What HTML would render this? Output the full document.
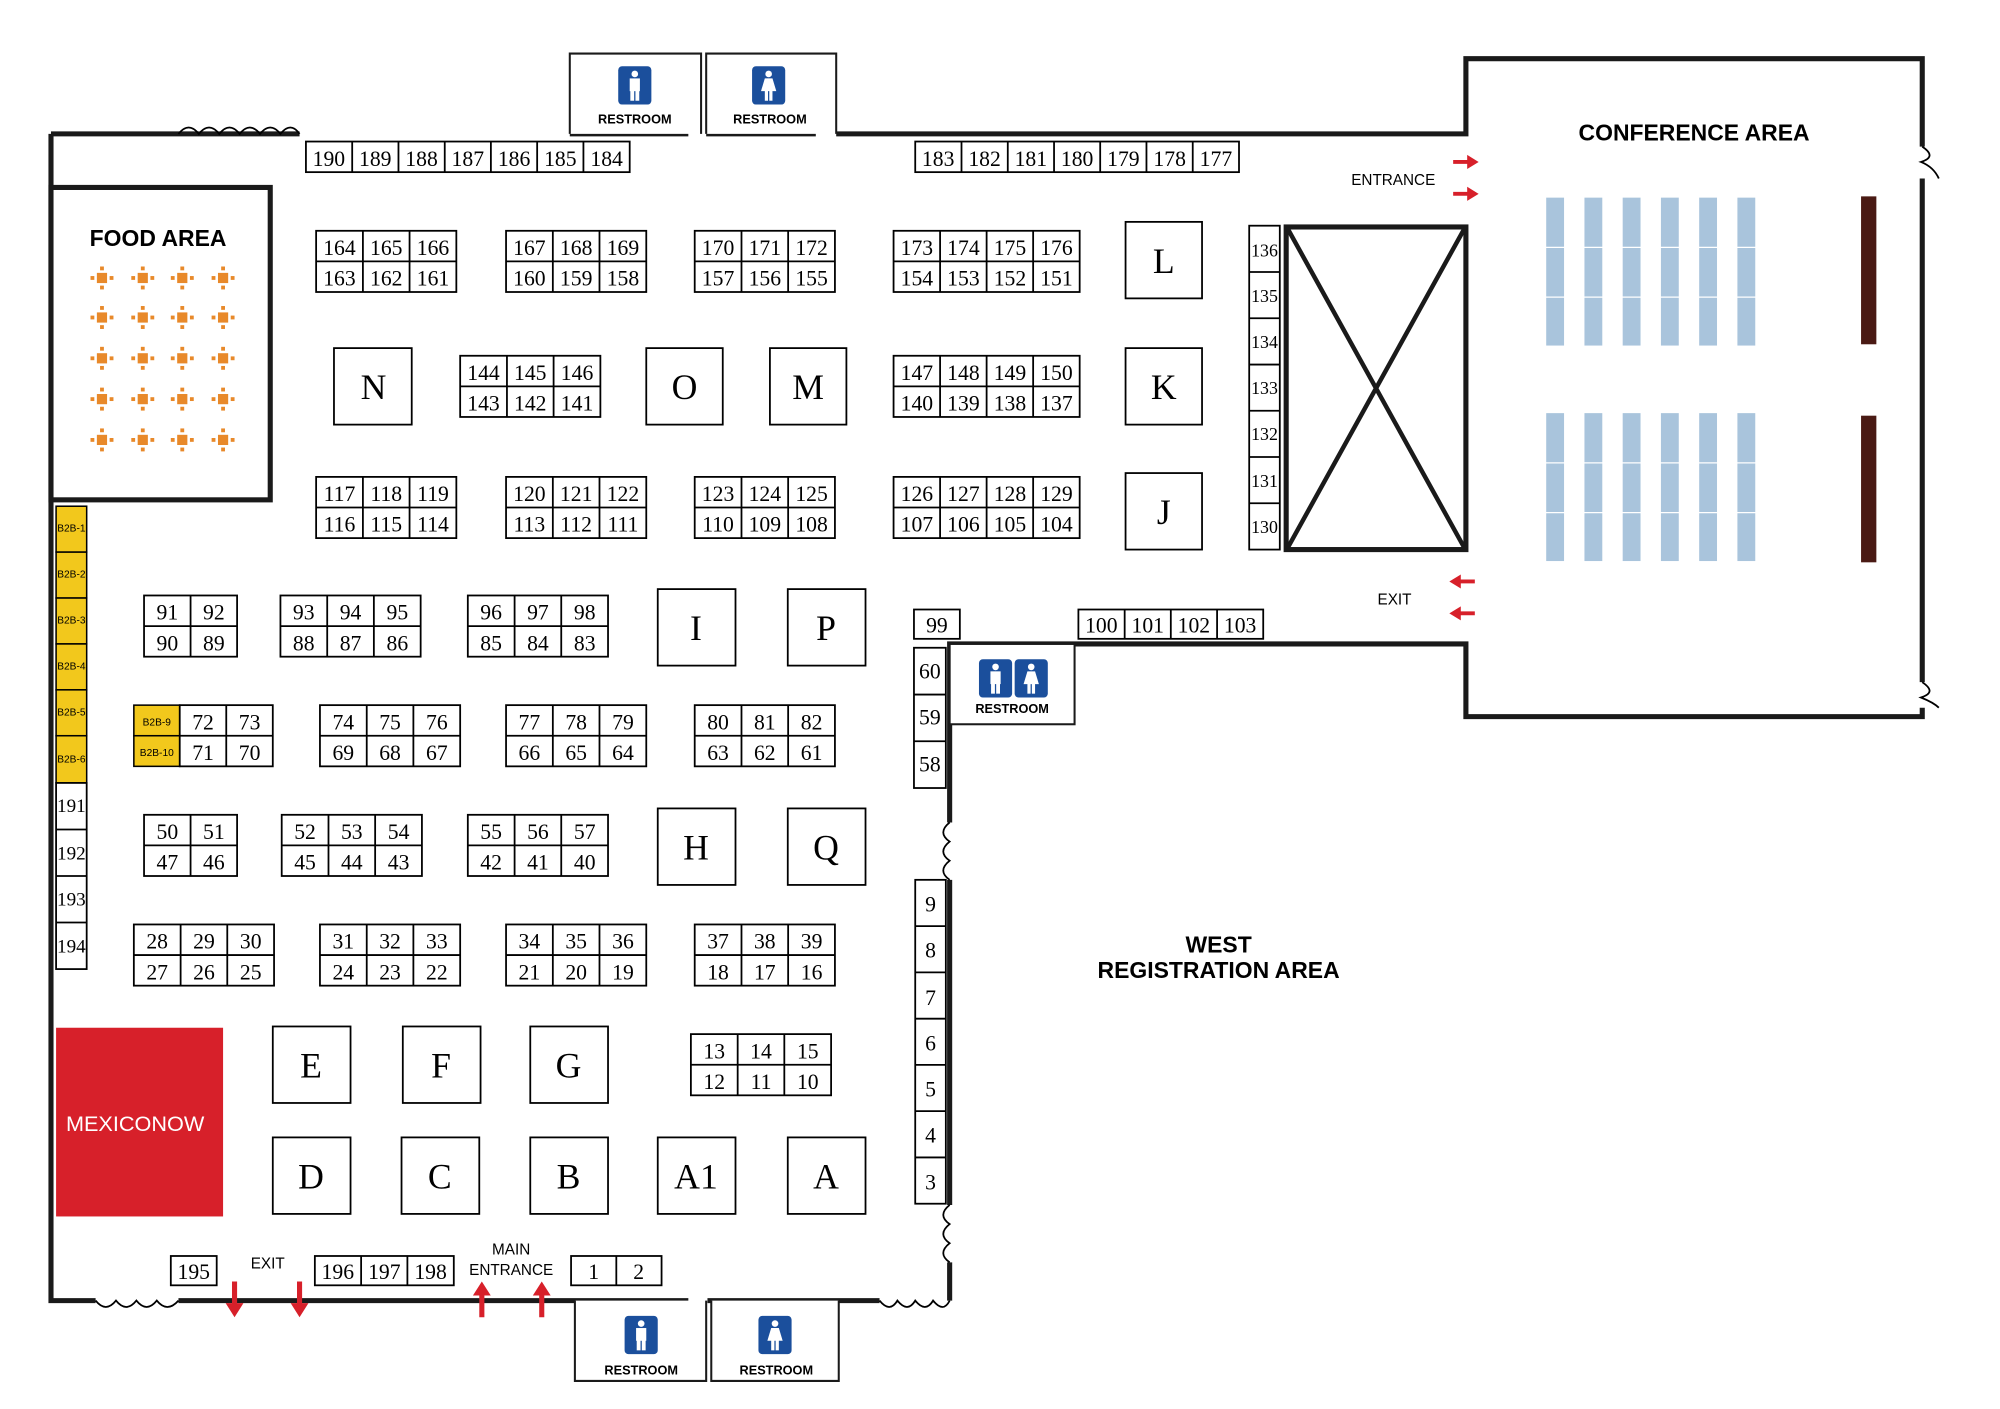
<!DOCTYPE html>
<html><head><meta charset="utf-8"><style>
html,body{margin:0;padding:0;background:#fff}
svg{display:block}
.c{fill:#fff;stroke:#000;stroke-width:1.4}
.l{stroke:#000;stroke-width:1.4;fill:none}
.w{stroke:#1a1a1a;stroke-width:4;fill:none}
.t{stroke:#1a1a1a;stroke-width:1.6;fill:#fff}
text{font-family:"Liberation Serif",serif;font-size:17px;text-anchor:middle}
.L{font-size:28px}
.s{font-family:"Liberation Sans",sans-serif;font-weight:bold}
.y{fill:#f2c81c;stroke:#000;stroke-width:1.2}
.b{fill:#a9c4dc}
.d{fill:#4a1a14}
.r{fill:#d7202a}
</style></head><body>
<svg width="2000" height="1409" viewBox="0 0 1569 1105" preserveAspectRatio="none" xmlns="http://www.w3.org/2000/svg">
<defs>
<g id="tb"><rect x="-4" y="-4" width="8" height="8" fill="#e8892a"/><rect x="-9" y="-1.5" width="3" height="3" fill="#e8892a"/><rect x="6" y="-1.5" width="3" height="3" fill="#e8892a"/><rect x="-1.5" y="-9" width="3" height="3" fill="#e8892a"/><rect x="-1.5" y="6" width="3" height="3" fill="#e8892a"/></g>
<g id="man"><rect x="-13" y="-15" width="26" height="30" rx="3" fill="#1b4f9c"/><circle cx="0" cy="-9" r="2.6" fill="#fff"/><rect x="-4" y="-5.5" width="8" height="10" fill="#fff"/><rect x="-3.5" y="4" width="3" height="8" fill="#fff"/><rect x="0.5" y="4" width="3" height="8" fill="#fff"/></g>
<g id="wom"><rect x="-13" y="-15" width="26" height="30" rx="3" fill="#1b4f9c"/><circle cx="0" cy="-9" r="2.6" fill="#fff"/><path d="M-3 -5.5h6l3 10h-12z" fill="#fff"/><rect x="-3" y="4" width="2.5" height="8" fill="#fff"/><rect x="0.5" y="4" width="2.5" height="8" fill="#fff"/></g>
</defs>

<path class="w" d="M40 105V1020H75M140 1020H540M555 1020H690M745 1020V990M745 945V690M745 645V505H843M805 505H1150V562H1508V555M1508 535V140M1508 115V46H1150V105H656M640 105H554M540 105H447M235 105H40"/>
<path class="l" d="M140 105q8-10 16 0q8-10 16 0q8-10 16 0q8-10 16 0q8-10 16 0q8-10 15 0M75 1020q8 10 16 0q8 10 16 0q8 10 16 0q8 10 17 0M690 1020q8 10 14 0q8 10 14 0q8 10 14 0q8 10 13 0M745 645q-10 8 0 15q-10 8 0 15q-10 8 0 15M745 945q-10 8 0 15q-10 8 0 15q-10 8 0 15M1508 115q12 8 -1 12q10 4 14 13M1508 535q12 8 -1 12q10 4 14 8"/>
<path class="t" d="M447 105V42H550V105M554 105V42H656V105"/>
<use href="#man" x="498" y="67"/><text class="s" x="498" y="97" style="font-size:10px">RESTROOM</text>
<use href="#wom" x="603" y="67"/><text class="s" x="604" y="97" style="font-size:10px">RESTROOM</text>
<path class="t" d="M451 1020V1083H554V1020M558 1020V1083H658V1020"/>
<use href="#man" x="503" y="1047"/><text class="s" x="503" y="1078" style="font-size:10px">RESTROOM</text>
<use href="#wom" x="608" y="1047"/><text class="s" x="609" y="1078" style="font-size:10px">RESTROOM</text>
<rect class="t" x="745" y="505" width="98" height="63"/>
<use href="#man" x="781" y="532"/><use href="#wom" x="809" y="532"/>
<text class="s" x="794" y="559" style="font-size:10px">RESTROOM</text>

<rect x="40" y="147" width="172" height="245" fill="#fff" stroke="#1a1a1a" stroke-width="4"/>
<text class="s" x="124" y="193" style="font-size:18px">FOOD AREA</text>
<g>
<use href="#tb" x="80" y="218"/><use href="#tb" x="112" y="218"/><use href="#tb" x="143" y="218"/><use href="#tb" x="175" y="218"/>
<use href="#tb" x="80" y="249"/><use href="#tb" x="112" y="249"/><use href="#tb" x="143" y="249"/><use href="#tb" x="175" y="249"/>
<use href="#tb" x="80" y="281"/><use href="#tb" x="112" y="281"/><use href="#tb" x="143" y="281"/><use href="#tb" x="175" y="281"/>
<use href="#tb" x="80" y="313"/><use href="#tb" x="112" y="313"/><use href="#tb" x="143" y="313"/><use href="#tb" x="175" y="313"/>
<use href="#tb" x="80" y="345"/><use href="#tb" x="112" y="345"/><use href="#tb" x="143" y="345"/><use href="#tb" x="175" y="345"/>
</g>

<g transform="translate(240,111)"><rect class="c" width="254" height="24"/><path class="l" d="M36.3 0v24M72.6 0v24M108.9 0v24M145.1 0v24M181.4 0v24M217.7 0v24"/>
<text x="18" y="19">190</text><text x="54.4" y="19">189</text><text x="90.7" y="19">188</text><text x="127" y="19">187</text><text x="163.3" y="19">186</text><text x="199.6" y="19">185</text><text x="235.9" y="19">184</text></g>
<g transform="translate(718,111)"><rect class="c" width="254" height="24"/><path class="l" d="M36.3 0v24M72.6 0v24M108.9 0v24M145.1 0v24M181.4 0v24M217.7 0v24"/>
<text x="18" y="19">183</text><text x="54.4" y="19">182</text><text x="90.7" y="19">181</text><text x="127" y="19">180</text><text x="163.3" y="19">179</text><text x="199.6" y="19">178</text><text x="235.9" y="19">177</text></g>

<g transform="translate(248,181)"><rect class="c" width="110" height="48"/><path class="l" d="M36.7 0v48M73.3 0v48M0 24h110"/><text x="18.3" y="19">164</text><text x="55" y="19">165</text><text x="91.7" y="19">166</text><text x="18.3" y="43">163</text><text x="55" y="43">162</text><text x="91.7" y="43">161</text></g>
<g transform="translate(397,181)"><rect class="c" width="110" height="48"/><path class="l" d="M36.7 0v48M73.3 0v48M0 24h110"/><text x="18.3" y="19">167</text><text x="55" y="19">168</text><text x="91.7" y="19">169</text><text x="18.3" y="43">160</text><text x="55" y="43">159</text><text x="91.7" y="43">158</text></g>
<g transform="translate(545,181)"><rect class="c" width="110" height="48"/><path class="l" d="M36.7 0v48M73.3 0v48M0 24h110"/><text x="18.3" y="19">170</text><text x="55" y="19">171</text><text x="91.7" y="19">172</text><text x="18.3" y="43">157</text><text x="55" y="43">156</text><text x="91.7" y="43">155</text></g>
<g transform="translate(701,181)"><rect class="c" width="146" height="48"/><path class="l" d="M36.5 0v48M73 0v48M109.5 0v48M0 24h146"/><text x="18.3" y="19">173</text><text x="54.8" y="19">174</text><text x="91.3" y="19">175</text><text x="127.8" y="19">176</text><text x="18.3" y="43">154</text><text x="54.8" y="43">153</text><text x="91.3" y="43">152</text><text x="127.8" y="43">151</text></g>

<g transform="translate(361,279)"><rect class="c" width="110" height="48"/><path class="l" d="M36.7 0v48M73.3 0v48M0 24h110"/><text x="18.3" y="19">144</text><text x="55" y="19">145</text><text x="91.7" y="19">146</text><text x="18.3" y="43">143</text><text x="55" y="43">142</text><text x="91.7" y="43">141</text></g>
<g transform="translate(701,279)"><rect class="c" width="146" height="48"/><path class="l" d="M36.5 0v48M73 0v48M109.5 0v48M0 24h146"/><text x="18.3" y="19">147</text><text x="54.8" y="19">148</text><text x="91.3" y="19">149</text><text x="127.8" y="19">150</text><text x="18.3" y="43">140</text><text x="54.8" y="43">139</text><text x="91.3" y="43">138</text><text x="127.8" y="43">137</text></g>

<g transform="translate(248,374)"><rect class="c" width="110" height="48"/><path class="l" d="M36.7 0v48M73.3 0v48M0 24h110"/><text x="18.3" y="19">117</text><text x="55" y="19">118</text><text x="91.7" y="19">119</text><text x="18.3" y="43">116</text><text x="55" y="43">115</text><text x="91.7" y="43">114</text></g>
<g transform="translate(397,374)"><rect class="c" width="110" height="48"/><path class="l" d="M36.7 0v48M73.3 0v48M0 24h110"/><text x="18.3" y="19">120</text><text x="55" y="19">121</text><text x="91.7" y="19">122</text><text x="18.3" y="43">113</text><text x="55" y="43">112</text><text x="91.7" y="43">111</text></g>
<g transform="translate(545,374)"><rect class="c" width="110" height="48"/><path class="l" d="M36.7 0v48M73.3 0v48M0 24h110"/><text x="18.3" y="19">123</text><text x="55" y="19">124</text><text x="91.7" y="19">125</text><text x="18.3" y="43">110</text><text x="55" y="43">109</text><text x="91.7" y="43">108</text></g>
<g transform="translate(701,374)"><rect class="c" width="146" height="48"/><path class="l" d="M36.5 0v48M73 0v48M109.5 0v48M0 24h146"/><text x="18.3" y="19">126</text><text x="54.8" y="19">127</text><text x="91.3" y="19">128</text><text x="127.8" y="19">129</text><text x="18.3" y="43">107</text><text x="54.8" y="43">106</text><text x="91.3" y="43">105</text><text x="127.8" y="43">104</text></g>

<g class="c"><rect x="883" y="174" width="60" height="60"/><rect x="883" y="273" width="60" height="60"/><rect x="883" y="371" width="60" height="60"/>
<rect x="262" y="273" width="61" height="60"/><rect x="507" y="273" width="60" height="60"/><rect x="604" y="273" width="60" height="60"/>
<rect x="516" y="462" width="61" height="60"/><rect x="618" y="462" width="61" height="60"/>
<rect x="516" y="634" width="61" height="60"/><rect x="618" y="634" width="61" height="60"/>
<rect x="214" y="805" width="61" height="60"/><rect x="316" y="805" width="61" height="60"/><rect x="416" y="805" width="61" height="60"/>
<rect x="214" y="892" width="61" height="60"/><rect x="315" y="892" width="61" height="60"/><rect x="416" y="892" width="61" height="60"/><rect x="516" y="892" width="61" height="60"/><rect x="618" y="892" width="61" height="60"/></g>
<g class="L"><text class="L" x="913" y="214">L</text><text class="L" x="913" y="313">K</text><text class="L" x="913" y="411">J</text>
<text class="L" x="293" y="313">N</text><text class="L" x="537" y="313">O</text><text class="L" x="634" y="313">M</text>
<text class="L" x="546" y="502">I</text><text class="L" x="648" y="502">P</text><text class="L" x="546" y="674">H</text><text class="L" x="648" y="674">Q</text>
<text class="L" x="244" y="845">E</text><text class="L" x="346" y="845">F</text><text class="L" x="446" y="845">G</text>
<text class="L" x="244" y="932">D</text><text class="L" x="345" y="932">C</text><text class="L" x="446" y="932">B</text><text class="L" x="546" y="932">A1</text><text class="L" x="648" y="932">A</text></g>

<g transform="translate(980,177)"><rect class="c" width="24" height="254"/><path class="l" d="M0 36.3h24M0 72.6h24M0 108.9h24M0 145.1h24M0 181.4h24M0 217.7h24"/>
<text x="12" y="24" style="font-size:14px">136</text><text x="12" y="60" style="font-size:14px">135</text><text x="12" y="96" style="font-size:14px">134</text><text x="12" y="132" style="font-size:14px">133</text><text x="12" y="168" style="font-size:14px">132</text><text x="12" y="205" style="font-size:14px">131</text><text x="12" y="241" style="font-size:14px">130</text></g>
<rect x="1009" y="178" width="141" height="253" fill="#fff" stroke="#1a1a1a" stroke-width="4"/>
<path d="M1010 179L1149 430M1149 179L1010 430" stroke="#1a1a1a" stroke-width="3.5"/>

<g transform="translate(113,467)"><rect class="c" width="73" height="48"/><path class="l" d="M36.5 0v48M0 24h73"/><text x="18.3" y="19">91</text><text x="54.8" y="19">92</text><text x="18.3" y="43">90</text><text x="54.8" y="43">89</text></g>
<g transform="translate(220,467)"><rect class="c" width="110" height="48"/><path class="l" d="M36.7 0v48M73.3 0v48M0 24h110"/><text x="18.3" y="19">93</text><text x="55" y="19">94</text><text x="91.7" y="19">95</text><text x="18.3" y="43">88</text><text x="55" y="43">87</text><text x="91.7" y="43">86</text></g>
<g transform="translate(367,467)"><rect class="c" width="110" height="48"/><path class="l" d="M36.7 0v48M73.3 0v48M0 24h110"/><text x="18.3" y="19">96</text><text x="55" y="19">97</text><text x="91.7" y="19">98</text><text x="18.3" y="43">85</text><text x="55" y="43">84</text><text x="91.7" y="43">83</text></g>
<g transform="translate(717,478)"><rect class="c" width="36" height="23"/><text x="18" y="18">99</text></g>
<g transform="translate(846,478)"><rect class="c" width="145" height="23"/><path class="l" d="M36.3 0v23M72.5 0v23M108.8 0v23"/><text x="18" y="18">100</text><text x="54.4" y="18">101</text><text x="90.6" y="18">102</text><text x="126.9" y="18">103</text></g>
<g transform="translate(717,508)"><rect class="c" width="25" height="110"/><path class="l" d="M0 36.7h25M0 73.3h25"/><text x="12.5" y="24">60</text><text x="12.5" y="60">59</text><text x="12.5" y="97">58</text></g>

<g transform="translate(105,553)"><rect class="y" width="36" height="24"/><rect class="y" y="24" width="36" height="24"/><text x="18" y="16" style="font-family:'Liberation Sans',sans-serif;font-size:8px">B2B-9</text><text x="18" y="40" style="font-family:'Liberation Sans',sans-serif;font-size:8px">B2B-10</text></g>
<g transform="translate(141,553)"><rect class="c" width="73" height="48"/><path class="l" d="M36.5 0v48M0 24h73"/><text x="18.3" y="19">72</text><text x="54.8" y="19">73</text><text x="18.3" y="43">71</text><text x="54.8" y="43">70</text></g>
<g transform="translate(251,553)"><rect class="c" width="110" height="48"/><path class="l" d="M36.7 0v48M73.3 0v48M0 24h110"/><text x="18.3" y="19">74</text><text x="55" y="19">75</text><text x="91.7" y="19">76</text><text x="18.3" y="43">69</text><text x="55" y="43">68</text><text x="91.7" y="43">67</text></g>
<g transform="translate(397,553)"><rect class="c" width="110" height="48"/><path class="l" d="M36.7 0v48M73.3 0v48M0 24h110"/><text x="18.3" y="19">77</text><text x="55" y="19">78</text><text x="91.7" y="19">79</text><text x="18.3" y="43">66</text><text x="55" y="43">65</text><text x="91.7" y="43">64</text></g>
<g transform="translate(545,553)"><rect class="c" width="110" height="48"/><path class="l" d="M36.7 0v48M73.3 0v48M0 24h110"/><text x="18.3" y="19">80</text><text x="55" y="19">81</text><text x="91.7" y="19">82</text><text x="18.3" y="43">63</text><text x="55" y="43">62</text><text x="91.7" y="43">61</text></g>

<g transform="translate(113,639)"><rect class="c" width="73" height="48"/><path class="l" d="M36.5 0v48M0 24h73"/><text x="18.3" y="19">50</text><text x="54.8" y="19">51</text><text x="18.3" y="43">47</text><text x="54.8" y="43">46</text></g>
<g transform="translate(221,639)"><rect class="c" width="110" height="48"/><path class="l" d="M36.7 0v48M73.3 0v48M0 24h110"/><text x="18.3" y="19">52</text><text x="55" y="19">53</text><text x="91.7" y="19">54</text><text x="18.3" y="43">45</text><text x="55" y="43">44</text><text x="91.7" y="43">43</text></g>
<g transform="translate(367,639)"><rect class="c" width="110" height="48"/><path class="l" d="M36.7 0v48M73.3 0v48M0 24h110"/><text x="18.3" y="19">55</text><text x="55" y="19">56</text><text x="91.7" y="19">57</text><text x="18.3" y="43">42</text><text x="55" y="43">41</text><text x="91.7" y="43">40</text></g>

<g transform="translate(105,725)"><rect class="c" width="110" height="48"/><path class="l" d="M36.7 0v48M73.3 0v48M0 24h110"/><text x="18.3" y="19">28</text><text x="55" y="19">29</text><text x="91.7" y="19">30</text><text x="18.3" y="43">27</text><text x="55" y="43">26</text><text x="91.7" y="43">25</text></g>
<g transform="translate(251,725)"><rect class="c" width="110" height="48"/><path class="l" d="M36.7 0v48M73.3 0v48M0 24h110"/><text x="18.3" y="19">31</text><text x="55" y="19">32</text><text x="91.7" y="19">33</text><text x="18.3" y="43">24</text><text x="55" y="43">23</text><text x="91.7" y="43">22</text></g>
<g transform="translate(397,725)"><rect class="c" width="110" height="48"/><path class="l" d="M36.7 0v48M73.3 0v48M0 24h110"/><text x="18.3" y="19">34</text><text x="55" y="19">35</text><text x="91.7" y="19">36</text><text x="18.3" y="43">21</text><text x="55" y="43">20</text><text x="91.7" y="43">19</text></g>
<g transform="translate(545,725)"><rect class="c" width="110" height="48"/><path class="l" d="M36.7 0v48M73.3 0v48M0 24h110"/><text x="18.3" y="19">37</text><text x="55" y="19">38</text><text x="91.7" y="19">39</text><text x="18.3" y="43">18</text><text x="55" y="43">17</text><text x="91.7" y="43">16</text></g>

<g transform="translate(542,811)"><rect class="c" width="110" height="48"/><path class="l" d="M36.7 0v48M73.3 0v48M0 24h110"/><text x="18.3" y="19">13</text><text x="55" y="19">14</text><text x="91.7" y="19">15</text><text x="18.3" y="43">12</text><text x="55" y="43">11</text><text x="91.7" y="43">10</text></g>

<g transform="translate(718,690)"><rect class="c" width="24" height="254"/><path class="l" d="M0 36.3h24M0 72.6h24M0 108.9h24M0 145.1h24M0 181.4h24M0 217.7h24"/>
<text x="12" y="25">9</text><text x="12" y="61">8</text><text x="12" y="98">7</text><text x="12" y="134">6</text><text x="12" y="170">5</text><text x="12" y="206">4</text><text x="12" y="243">3</text></g>

<g transform="translate(44,397)">
<rect class="y" width="24" height="36"/><rect class="y" y="36" width="24" height="36"/><rect class="y" y="72" width="24" height="36"/><rect class="y" y="108" width="24" height="36"/><rect class="y" y="144" width="24" height="36"/><rect class="y" y="180" width="24" height="37"/>
<text x="12" y="20" style="font-family:'Liberation Sans',sans-serif;font-size:8px">B2B-1</text><text x="12" y="56" style="font-family:'Liberation Sans',sans-serif;font-size:8px">B2B-2</text><text x="12" y="92" style="font-family:'Liberation Sans',sans-serif;font-size:8px">B2B-3</text><text x="12" y="128" style="font-family:'Liberation Sans',sans-serif;font-size:8px">B2B-4</text><text x="12" y="164" style="font-family:'Liberation Sans',sans-serif;font-size:8px">B2B-5</text><text x="12" y="201" style="font-family:'Liberation Sans',sans-serif;font-size:8px">B2B-6</text></g>
<g transform="translate(44,614)"><rect class="c" width="24" height="146"/><path class="l" d="M0 36.5h24M0 73h24M0 109.5h24"/>
<text x="12" y="23" style="font-size:15px">191</text><text x="12" y="60" style="font-size:15px">192</text><text x="12" y="96" style="font-size:15px">193</text><text x="12" y="133" style="font-size:15px">194</text></g>

<rect class="r" x="44" y="806" width="131" height="148"/>
<text x="106" y="887" style="font-family:'Liberation Sans',sans-serif;font-size:17px;fill:#fff">MEXICONOW</text>

<g transform="translate(134,985)"><rect class="c" width="36" height="23"/><text x="18" y="18">195</text></g>
<g transform="translate(247,985)"><rect class="c" width="109" height="23"/><path class="l" d="M36.3 0v23M72.6 0v23"/><text x="18" y="18">196</text><text x="54.5" y="18">197</text><text x="90.8" y="18">198</text></g>
<g transform="translate(448,985)"><rect class="c" width="71" height="23"/><path class="l" d="M35.5 0v23"/><text x="17.7" y="18">1</text><text x="53" y="18">2</text></g>
<text x="210" y="995" style="font-family:'Liberation Sans',sans-serif;font-size:12px">EXIT</text>
<text x="401" y="984" style="font-family:'Liberation Sans',sans-serif;font-size:12px">MAIN</text>
<text x="401" y="1000" style="font-family:'Liberation Sans',sans-serif;font-size:12px">ENTRANCE</text>
<g fill="#d7202a"><path d="M182 1005h4v17h5l-7 11l-7-11h5z"/><path d="M233 1005h4v17h5l-7 11l-7-11h5z"/>
<path d="M376 1033h4v-17h5l-7-11l-7 11h5z"/><path d="M423 1033h4v-17h5l-7-11l-7 11h5z"/>
<path d="M1140 125.5h11v-4l9 5.5l-9 5.5v-4h-11z"/><path d="M1140 150.5h11v-4l9 5.5l-9 5.5v-4h-11z"/>
<path d="M1157 454.5h-11v-4l-9 5.5l9 5.5v-4h11z"/><path d="M1157 479.5h-11v-4l-9 5.5l9 5.5v-4h11z"/></g>

<text class="s" x="1329" y="110" style="font-size:18px">CONFERENCE AREA</text>
<text x="1093" y="145" style="font-family:'Liberation Sans',sans-serif;font-size:12px">ENTRANCE</text>
<text x="1094" y="474" style="font-family:'Liberation Sans',sans-serif;font-size:12px">EXIT</text>
<g class="b"><rect x="1213" y="155" width="14" height="116"/><rect x="1243" y="155" width="14" height="116"/><rect x="1273" y="155" width="14" height="116"/><rect x="1303" y="155" width="14" height="116"/><rect x="1333" y="155" width="14" height="116"/><rect x="1363" y="155" width="14" height="116"/>
<rect x="1213" y="324" width="14" height="116"/><rect x="1243" y="324" width="14" height="116"/><rect x="1273" y="324" width="14" height="116"/><rect x="1303" y="324" width="14" height="116"/><rect x="1333" y="324" width="14" height="116"/><rect x="1363" y="324" width="14" height="116"/></g>
<path d="M1212 194h166M1212 233h166M1212 363h166M1212 402h166" stroke="#fff" stroke-width="1"/>
<rect class="d" x="1460" y="154" width="12" height="116"/><rect class="d" x="1460" y="326" width="12" height="115"/>

<text class="s" x="956" y="747" style="font-size:18px">WEST</text>
<text class="s" x="956" y="767" style="font-size:18px">REGISTRATION AREA</text>
</svg>
</body></html>
